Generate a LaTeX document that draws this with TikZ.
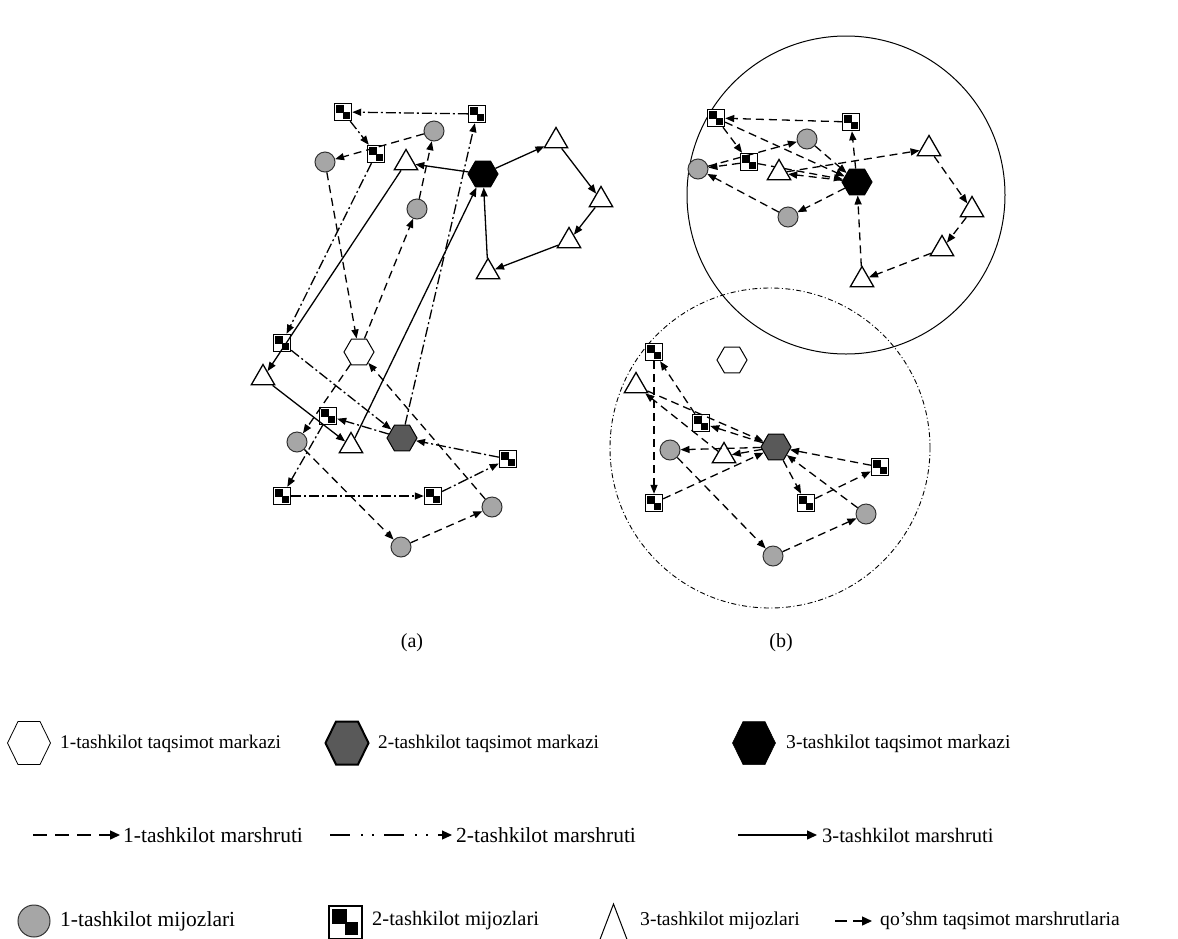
\documentclass[tikz,border=0pt]{standalone}
\usepackage{fontspec}
\setmainfont{Liberation Serif}
\usetikzlibrary{arrows.meta,shapes.geometric,calc}
\begin{document}
\begin{tikzpicture}[x=1pt,y=-1pt,
  every node/.style={inner sep=0pt},
  cust1/.style={circle, draw=black!80, line width=1pt, fill=black!35, minimum size=20pt},
  cust2/.style={rectangle, draw=black, line width=1.4pt, fill=white, minimum size=17pt,
    path picture={
      \fill[black] ($(path picture bounding box.north west)!0.1!(path picture bounding box.south east)$)
        rectangle ($(path picture bounding box.north west)!0.56!(path picture bounding box.south east)$);
      \fill[black] ($(path picture bounding box.north west)!0.5!(path picture bounding box.south east)$)
        rectangle ($(path picture bounding box.north west)!0.9!(path picture bounding box.south east)$);}},
  cust3/.style={regular polygon, regular polygon sides=3, draw=black, line width=1.3pt, fill=white, minimum size=27pt},
  hexa/.style={regular polygon, regular polygon sides=6, draw=black, line width=1pt, minimum size=30pt},
  dc1/.style={hexa, fill=white},
  dc2/.style={hexa, fill=black!65},
  dc3/.style={hexa, fill=black},
  route/.style={line width=1.3pt, -{Triangle[length=9pt,width=7pt]}},
  r1/.style={route, dash pattern=on 8pt off 5pt},
  r2/.style={route, dash pattern=on 10pt off 3pt on 2pt off 3pt},
  r3/.style={route},
  keyline/.style={line width=1.4pt, -{Triangle[length=10pt,width=9pt]}},
  lbl/.style={font=\fontsize{#1}{24}\selectfont, anchor=west},
  lbl/.default=20,
  captxt/.style={font=\fontsize{20}{24}\selectfont},
  pics/bighex/.style={code={\draw[#1] (-21.5,0) -- (-11,-21.5) -- (11,-21.5) -- (21.5,0) -- (11,21.5) -- (-11,21.5) -- cycle;}},
]
\useasboundingbox (0,0) rectangle (1178,938);

% ---------- (a): separate distribution of three organisations ----------
\node[dc3] (aH3) at (483,174) {};
\node[dc1] (aH1) at (359,352) {};
\node[dc2] (aH2) at (402,438) {};

\node[cust1] (aC1) at (434,131) {};
\node[cust1] (aC2) at (325,162) {};
\node[cust1] (aC3) at (417,209) {};
\node[cust1] (aC4) at (297,442) {};
\node[cust1] (aC5) at (492,507) {};
\node[cust1] (aC6) at (401,547) {};

\node[cust2] (aA1) at (343,112) {};
\node[cust2] (aA2) at (477,114) {};
\node[cust2] (aA3) at (376,154) {};
\node[cust2] (aA4) at (282,343) {};
\node[cust2] (aA5) at (328,416) {};
\node[cust2] (aA6) at (508,459) {};
\node[cust2] (aA7) at (282,496) {};
\node[cust2] (aA8) at (433,496) {};

\node[cust3] (aT1) at (406,163) {};
\node[cust3] (aT2) at (556,141) {};
\node[cust3] (aT3) at (601,200) {};
\node[cust3] (aT4) at (569,241) {};
\node[cust3] (aT5) at (488,272) {};
\node[cust3] (aT6) at (263,378) {};
\node[cust3] (aT7) at (351,446) {};

% organisation 1 routes
\draw[r1] (aH1) -- (aC3);
\draw[r1] (aC3) -- (aC1);
\draw[r1] (aC1) -- (aC2);
\draw[r1] (aC2) -- (aH1);
\draw[r1] (aH1) -- (aC4);
\draw[r1] (aC4) -- (aC6);
\draw[r1] (aC6) -- (aC5);
\draw[r1] (aC5) -- (aH1);
% organisation 2 routes
\draw[r2] (aH2) -- (aA2);
\draw[r2] (aA2) -- (aA1);
\draw[r2] (aA1) -- (aA3);
\draw[r2] (aA3) -- (aA4);
\draw[r2] (aA4) -- (aH2);
\draw[r2] (aH2) -- (aA5);
\draw[r2] (aA5) -- (aA7);
\draw[r2] (aA7) -- (aA8);
\draw[r2] (aA8) -- (aA6);
\draw[r2] (aA6) -- (aH2);
% organisation 3 routes
\draw[r3] (aH3) -- (aT1);
\draw[r3] (aT1) -- (aT6);
\draw[r3] (aT6) -- (aT7);
\draw[r3] (aT7) -- (aH3);
\draw[r3] (aH3) -- (aT2);
\draw[r3] (aT2) -- (aT3);
\draw[r3] (aT3) -- (aT4);
\draw[r3] (aT4) -- (aT5);
\draw[r3] (aT5) -- (aH3);

\node[captxt] (capa) at (412,643) {(a)};

% ---------- (b): joint distribution, two service zones ----------
\node[circle, draw, line width=1pt, minimum size=318pt] (zone3) at (846,195) {};
\node[circle, draw, line width=0.9pt, minimum size=320pt,
      dash pattern=on 5pt off 2.5pt on 1pt off 2.5pt] (zone2) at (770,448) {};

% upper zone
\node[dc3] (bH3) at (857,182) {};
\node[cust2] (bA1) at (716,118) {};
\node[cust2] (bA2) at (851,122) {};
\node[cust2] (bA3) at (749,162) {};
\node[cust1] (bC1) at (807,139) {};
\node[cust1] (bC2) at (698,169) {};
\node[cust1] (bC3) at (788,217) {};

\draw[r1] (bA3) -- (bH3);
\node[cust3] (bT1) at (779,173) {};
\node[cust3] (bT2) at (929,149) {};
\node[cust3] (bT3) at (972,210) {};
\node[cust3] (bT4) at (942,249) {};
\node[cust3] (bT5) at (862,280) {};

\draw[r1] (bA2) -- (bA1);
\draw[r1] (bA1) -- (bA3);
\draw[r1] (bA1) -- (bH3);
\draw[r1] (bA3) -- (bC2);
\draw[r1] (bC2) -- (bC1);
\draw[r1] (bC1) -- (bH3);
\draw[r1] (bH3) -- (bA2);
\draw[r1] (bH3) -- (bT1);
\draw[r1] (bT1) -- (bT2);
\draw[r1] (bT2) -- (bT3);
\draw[r1] (bT3) -- (bT4);
\draw[r1] (bT4) -- (bT5);
\draw[r1] (bT5) -- (bH3);
\draw[r1] (bH3) -- (bC3);
\draw[r1] (bC3) -- (bC2);

% lower zone
\node[dc1] (cH1) at (732,360) {};
\node[dc2] (cH2) at (776,447) {};
\node[cust2] (cA1) at (654,352) {};
\node[cust2] (cA2) at (701,423) {};
\node[cust2] (cA3) at (880,467) {};
\node[cust2] (cA4) at (654,503) {};
\node[cust2] (cA5) at (806,503) {};
\node[cust1] (cC1) at (670,450) {};
\node[cust1] (cC2) at (866,514) {};
\node[cust1] (cC3) at (773,556) {};
\node[cust3] (cT1) at (636,386) {};
\node[cust3] (cT2) at (724,456) {};

\draw[r1] (cA1) -- (cA4);
\draw[r1] (cA4) -- (cH2);
\draw[r1] (cH2) -- (cA2);
\draw[r1] (cA2) -- (cA1);
\draw[r1] (cT1) -- (cH2);
\draw[r1] (cT2) -- (cT1);
\draw[r1] (cH2) -- (cT2);
\draw[r1] (cH2) -- (cC1);
\draw[r1] (cC1) -- (cC3);
\draw[r1] (cC3) -- (cC2);
\draw[r1] (cC2) -- (cH2);
\draw[r1] (cH2) -- (cA5);
\draw[r1] (cA5) -- (cA3);
\draw[r1] (cA3) -- (cH2);

\node[captxt] (capb) at (781,643) {(b)};

% ---------- legend ----------
\pic at (29,743) {bighex={fill=white, line width=0.8pt}};
\node[lbl=19.3] (lg1) at (60,744) {1-tashkilot taqsimot markazi};
\pic at (347,743) {bighex={fill=black!65, line width=2pt}};
\node[lbl=19.3] (lg2) at (378,744) {2-tashkilot taqsimot markazi};
\pic at (754,743) {bighex={fill=black, line width=0.5pt}};
\node[lbl=19.6] (lg3) at (786,744) {3-tashkilot taqsimot markazi};

\coordinate (m1a) at (33,835);  \coordinate (m1b) at (120,835);
\draw[keyline, dash pattern=on 14pt off 8pt] (m1a) -- (m1b);
\node[lbl=21.5] (lm1) at (123,835) {1-tashkilot marshruti};
\coordinate (m2a) at (330,835); \coordinate (m2b) at (452,835);
\draw[keyline, line width=1.2pt, dash pattern=on 20pt off 11pt on 2pt off 9pt on 2pt off 10pt] (m2a) -- (m2b);
\node[lbl=21.5] (lm2) at (456,835) {2-tashkilot marshruti};
\coordinate (m3a) at (738,835); \coordinate (m3b) at (817,835);
\draw[keyline] (m3a) -- (m3b);
\node[lbl=20.5] (lm3) at (822,835) {3-tashkilot marshruti};

\node[cust1, minimum size=32pt] (lc1) at (34,921) {};
\node[lbl=21.5] (lk1) at (60,921) {1-tashkilot mijozlari};
\node[cust2, minimum size=33pt, line width=2pt] (lc2) at (345,922) {};
\node[lbl=20.5] (lk2) at (372,921) {2-tashkilot mijozlari};
\draw[line width=1pt] (599,942) -- (613.5,904) -- (628,942);
\node[lbl=19.6] (lk3) at (640,921) {3-tashkilot mijozlari};
\coordinate (m4a) at (835,921); \coordinate (m4b) at (872,921);
\draw[keyline, dash pattern=on 12pt off 6pt] (m4a) -- (m4b);
\node[lbl=19.6] (lk4) at (880,921) {qo’shm taqsimot marshrutlaria};
\end{tikzpicture}
\end{document}
